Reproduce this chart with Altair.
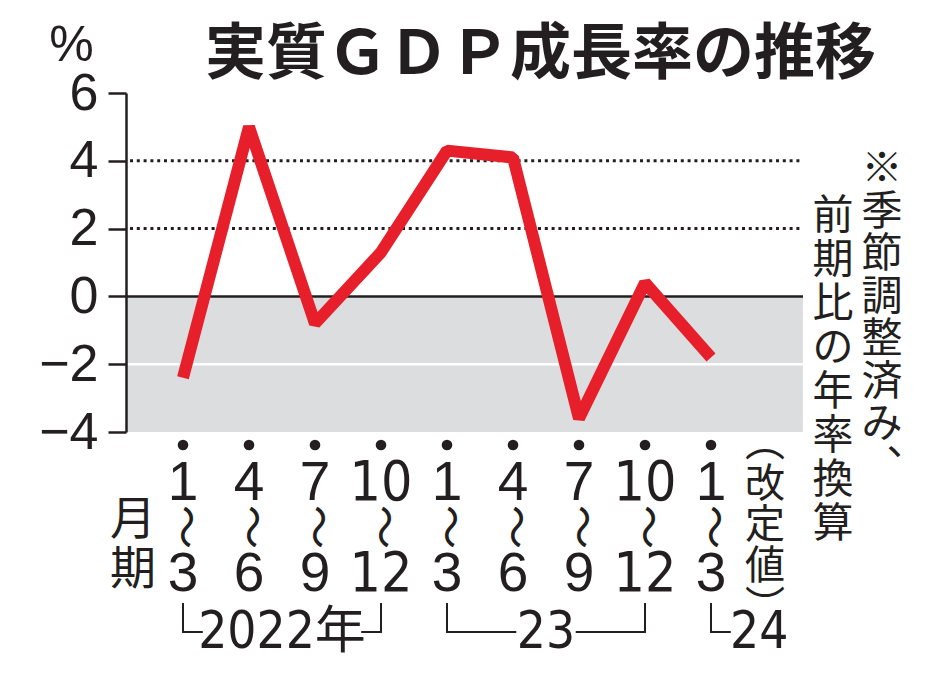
import altair as alt
import pandas as pd

# ---------------- data ----------------
title_text = "実質ＧＤＰ成長率の推移"
unit_text = "%"
month_from = ["1", "4", "7", "10", "1", "4", "7", "10", "1"]
month_to = ["3", "6", "9", "12", "3", "6", "9", "12", "3"]
growth = [-2.4, 5.0, -0.8, 1.3, 4.3, 4.1, -3.6, 0.4, -1.8]
year_labels = ["2022年", "23", "24"]
year_first = [0, 4, 8]
year_last = [3, 7, 8]
year_closed = [True, True, False]
y_ticks = [-4, -2, 0, 2, 4, 6]
dotted_levels = [2, 4]
band_top = [0]
band_bottom = [-4]
white_levels = [-2]
zero_level = [0]
period_word = "月期"
revised_word = "︵改定値︶"
note_col1 = "※季節調整済み︑"
note_col2 = "前期比の年率換算"

# ---------------- layout / style ----------------
W, H = 677, 339
LEFT, TOP = 126, 93
STEP, FIRST = 66, 57
INK = "#231f20"
RED = "#e61f2b"
GRAY = "#dcdddf"
JP = "Noto Sans CJK JP"
NUM = "Liberation Sans, Noto Sans, sans-serif"
NARROW = "Liberation Sans Narrow, DejaVu Sans Condensed, Noto Sans CJK JP, sans-serif"


def ax(px):
    return px - LEFT


def ay(py):
    return py - TOP


x_scale = alt.Scale(domain=[-FIRST / STEP, (W - FIRST) / STEP], nice=False, zero=False)
y_scale = alt.Scale(domain=[min(y_ticks), max(y_ticks)], nice=False, zero=False)

y_axis = alt.Axis(
    values=y_ticks, grid=False, domainColor=INK, domainWidth=2.5,
    tickColor=INK, tickWidth=2.5, tickSize=18,
    labelFont=NUM, labelFontSize=52, labelColor=INK, labelPadding=10,
    labelFlush=False, labelOverlap=False,
    title=unit_text, titleAngle=0, titleFont=NUM, titleFontSize=50,
    titleFontWeight="normal", titleColor=INK, titleX=-55, titleY=-48,
    titleAlign="center", titleBaseline="middle", zindex=1,
)

df = pd.DataFrame({
    "idx": list(range(len(growth))),
    "growth": growth,
    "mfrom": month_from,
    "mto": month_to,
})

X = alt.X("idx:Q", scale=x_scale, axis=None)

band = alt.Chart(pd.DataFrame({"top": band_top, "bottom": band_bottom})).mark_rect(
    color=GRAY
).encode(
    x=alt.value(0), x2=alt.value(W),
    y=alt.Y("top:Q", scale=y_scale, axis=y_axis), y2="bottom:Q",
)

white_rule = alt.Chart(pd.DataFrame({"lv": white_levels})).mark_rule(
    color="white", strokeWidth=2.5
).encode(x=alt.value(2), x2=alt.value(W), y=alt.Y("lv:Q", scale=y_scale, axis=y_axis))

dotted = alt.Chart(pd.DataFrame({"lv": dotted_levels})).mark_rule(
    color=INK, strokeWidth=3, strokeDash=[3, 3.8]
).encode(x=alt.value(4), x2=alt.value(W), y=alt.Y("lv:Q", scale=y_scale, axis=y_axis))

zero_rule = alt.Chart(pd.DataFrame({"lv": zero_level})).mark_rule(
    color=INK, strokeWidth=2.5
).encode(x=alt.value(0), x2=alt.value(W), y=alt.Y("lv:Q", scale=y_scale, axis=y_axis))

line = alt.Chart(df).mark_line(
    color=RED, strokeWidth=12, strokeJoin="bevel", strokeCap="butt"
).encode(x=X, y=alt.Y("growth:Q", scale=y_scale, axis=y_axis))

dots = alt.Chart(df).mark_circle(size=113, color=INK, opacity=1).encode(
    x=X, y=alt.value(ay(445))
)

top_single = alt.Chart(df).transform_filter("length(datum.mfrom) == 1").mark_text(
    font=NUM, fontSize=55, color=INK, baseline="middle", align="center"
).encode(x=X, y=alt.value(ay(483)), text="mfrom:N")

top_double = alt.Chart(df).transform_filter("length(datum.mfrom) > 1").mark_text(
    font=NARROW, fontSize=55, color=INK, baseline="middle", align="center"
).encode(x=X, y=alt.value(ay(483)), text="mfrom:N")

wave = alt.Chart(df).mark_text(
    text="〜", font=JP, fontSize=44, color=INK, baseline="middle", align="center", angle=90
).encode(x=X, y=alt.value(ay(527)))

bot_single = alt.Chart(df).transform_filter("length(datum.mto) == 1").mark_text(
    font=NUM, fontSize=55, color=INK, baseline="middle", align="center"
).encode(x=X, y=alt.value(ay(574)), text="mto:N")

bot_double = alt.Chart(df).transform_filter("length(datum.mto) > 1").mark_text(
    font=NARROW, fontSize=55, color=INK, baseline="middle", align="center"
).encode(x=X, y=alt.value(ay(574)), text="mto:N")

# year brackets
LABEL_HALF = {"2022年": 1.2, "23": 0.45}
OPEN_TAIL = 0.3
seg_rows, vert_rows, lab_rows = [], [], []
for lab, f, l, closed in zip(year_labels, year_first, year_last, year_closed):
    if closed:
        c = (f + l) / 2
        hg = LABEL_HALF[lab]
        seg_rows += [{"a": f, "b": c - hg}, {"a": c + hg, "b": l}]
        vert_rows += [{"a": f}, {"a": l}]
        lab_rows.append({"a": c, "t": lab})
    else:
        seg_rows.append({"a": f, "b": f + OPEN_TAIL})
        vert_rows.append({"a": f})
        lab_rows.append({"a": f + 0.73, "t": lab})

br_h = alt.Chart(pd.DataFrame(seg_rows)).mark_rule(color=INK, strokeWidth=2).encode(
    x=alt.X("a:Q", scale=x_scale, axis=None), x2="b:Q", y=alt.value(ay(632))
)
br_v = alt.Chart(pd.DataFrame(vert_rows)).mark_rule(color=INK, strokeWidth=2).encode(
    x=alt.X("a:Q", scale=x_scale, axis=None), y=alt.value(ay(603)), y2=alt.value(ay(633))
)
year_text = alt.Chart(pd.DataFrame(lab_rows)).mark_text(
    font=NARROW, fontSize=51, color=INK, baseline="middle", align="center"
).encode(x=alt.X("a:Q", scale=x_scale, axis=None), y=alt.value(ay(633)), text="t:N")

one = pd.DataFrame({"k": [0]})


def vtext(s, px, py_first, size, lh):
    # vertical writing: one character per line, first line centred at py_first
    return alt.Chart(one).mark_text(
        text=list(s), font=JP, fontSize=size, lineHeight=lh, color=INK,
        baseline="middle", align="center",
    ).encode(x=alt.value(ax(px)), y=alt.value(ay(py_first)))


period_t = vtext(period_word, 133, 520, 46, 50)
revised_t = vtext(revised_word, 765, 444, 40, 41)
note1_t = vtext(note_col1, 882, 170, 41, 42.5)
note2_t = vtext(note_col2, 833, 217, 41, 44)

title_t = alt.Chart(one).mark_text(
    text=title_text, font=JP, fontSize=61, fontWeight="bold", color=INK,
    baseline="middle", align="left",
).encode(x=alt.value(ax(205)), y=alt.value(ay(56)))

chart = alt.layer(
    band, white_rule, dotted, zero_rule, line, dots,
    top_single, top_double, wave, bot_single, bot_double,
    br_h, br_v, year_text,
    period_t, revised_t, note1_t, note2_t, title_t,
).properties(
    width=W, height=H,
    autosize=alt.AutoSizeParams(type="none"),
    padding={"left": LEFT, "top": TOP, "right": 934 - LEFT - W, "bottom": 681 - TOP - H},
    background="white",
).configure_view(stroke=None)

chart.save("out.html", embed_options={"renderer": "svg", "actions": False})
